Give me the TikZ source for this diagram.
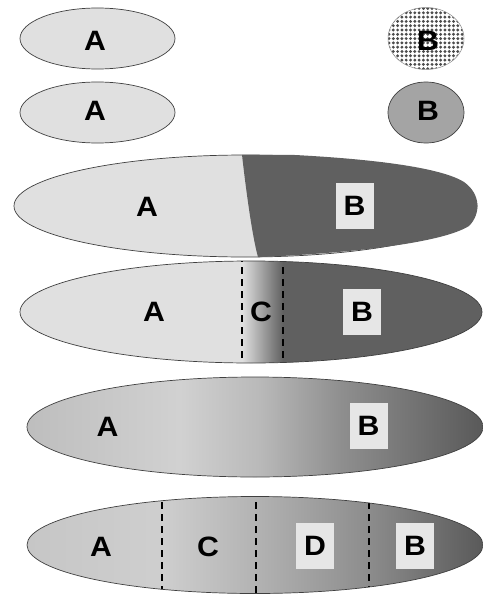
\documentclass[tikz,border=0pt]{standalone}
\usepackage{fontspec}
\setmainfont{Liberation Sans}
\newfontfamily\lblfont{Liberation Sans}[FakeStretch=1.08]
\definecolor{lightA}{HTML}{E0E0E0}
\definecolor{darkB}{HTML}{606060}
\definecolor{midB}{HTML}{A4A4A4}
\definecolor{boxC}{HTML}{E6E6E6}
\definecolor{edgeC}{HTML}{404040}
\definecolor{dotC}{HTML}{4C4C4C}
\tikzset{
  lbl/.style={font=\lblfont\bfseries\fontsize{28}{28}\selectfont, inner sep=0pt, text=black},
  boxlbl/.style={lbl, fill=boxC, minimum width=38pt, minimum height=46pt},
  outl/.style={draw=edgeC, line width=0.7pt},
  dsh/.style={draw=black, dash pattern=on 7pt off 5pt, line width=1.8pt},
}
\begin{document}
\begin{tikzpicture}[x=1pt,y=-1pt]
\useasboundingbox[fill=white] (0,0) rectangle (482,594);

% Row 1
\draw[outl, fill=lightA] (97.5,38.5) ellipse [x radius=77.5pt, y radius=30.5pt];
\node[lbl] (a1) at (95,41) {A};
\begin{scope}
  \clip (426,38.5) ellipse [x radius=38pt, y radius=31pt];
  \fill[white] (386,6) rectangle (466,72);
  \foreach \i in {0,...,18}{
    \foreach \j in {0,...,15}{
      \fill[dotC] (389+\i*4.3, 8.5+\j*4.3) circle [radius=1.6pt];
    }
  }
\end{scope}
\draw[draw=edgeC!60, line width=0.5pt] (426,38.5) ellipse [x radius=38pt, y radius=31pt];
\node[lbl] (b1) at (428,41) {B};

% Row 2
\draw[outl, fill=lightA] (97.5,112.5) ellipse [x radius=77.5pt, y radius=30.5pt];
\node[lbl] (a2) at (95,111) {A};
\draw[outl, fill=midB] (426,112.5) ellipse [x radius=38pt, y radius=30.5pt];
\node[lbl] (b2) at (428,111) {B};

% Row 3
\draw[outl, fill=lightA] (245.5,206) ellipse [x radius=231.5pt, y radius=51pt];
\fill[darkB] (242,154.8) -- (295,155) .. controls (370,159) and (440,167) .. (464,182)
  .. controls (481,194) and (481,214) .. (469,226)
  .. controls (445,241) and (370,252) .. (258,257.2)
  .. controls (252,235) and (246,190) .. (242,154.8) -- cycle;
\node[lbl] (a3) at (147,207) {A};
\node[boxlbl] (b3) at (354.5,205.5) {B};

% Row 4
\begin{scope}
  \clip (251,312) ellipse [x radius=231pt, y radius=51pt];
  \fill[lightA] (0,255) rectangle (242,370);
  \shade[left color=lightA, right color=darkB] (242,255) rectangle (283,370);
  \fill[darkB] (283,255) rectangle (490,370);
  \draw[dsh] (242,255) -- (242,370);
  \draw[dsh] (283,255) -- (283,370);
\end{scope}
\draw[outl] (251,312) ellipse [x radius=231pt, y radius=51pt];
\node[lbl] (a4) at (154,312) {A};
\node[lbl] (c4) at (261,312) {C};
\node[boxlbl] (b4) at (362,311.5) {B};

% Row 5
\begin{scope}
  \clip (255,427) ellipse [x radius=228pt, y radius=50pt];
  \shade[left color=gray!52, right color=gray!36] (20,370) rectangle (180.5,480);
  \shade[left color=gray!36, right color=gray!55] (180,370) rectangle (260.5,480);
  \shade[left color=gray!55, right color=gray!88] (260,370) rectangle (340.5,480);
  \shade[left color=gray!88, right color=darkB!90!black] (340,370) rectangle (490,480);
\end{scope}
\draw[outl] (255,427) ellipse [x radius=228pt, y radius=50pt];
\node[lbl] (a5) at (107.5,427) {A};
\node[boxlbl] (b5) at (368.5,426) {B};

% Row 6
\begin{scope}
  \clip (255,545) ellipse [x radius=228pt, y radius=48.5pt];
  \shade[left color=gray!45, right color=gray!38] (20,490) rectangle (162.5,600);
  \shade[left color=gray!38, right color=gray!60] (162,490) rectangle (256.5,600);
  \shade[left color=gray!60, right color=gray!90] (256,490) rectangle (369.5,600);
  \shade[left color=gray!90, right color=darkB!90!black] (369,490) rectangle (490,600);
  \draw[dsh] (162,490) -- (162,600);
  \draw[dsh] (256,490) -- (256,600);
  \draw[dsh] (369,490) -- (369,600);
\end{scope}
\draw[outl] (255,545) ellipse [x radius=228pt, y radius=48.5pt];
\node[lbl] (a6) at (101,547) {A};
\node[lbl] (c6) at (208,547) {C};
\node[boxlbl] (d6) at (315,546) {D};
\node[boxlbl] (b6) at (415,546) {B};
\end{tikzpicture}
\end{document}
